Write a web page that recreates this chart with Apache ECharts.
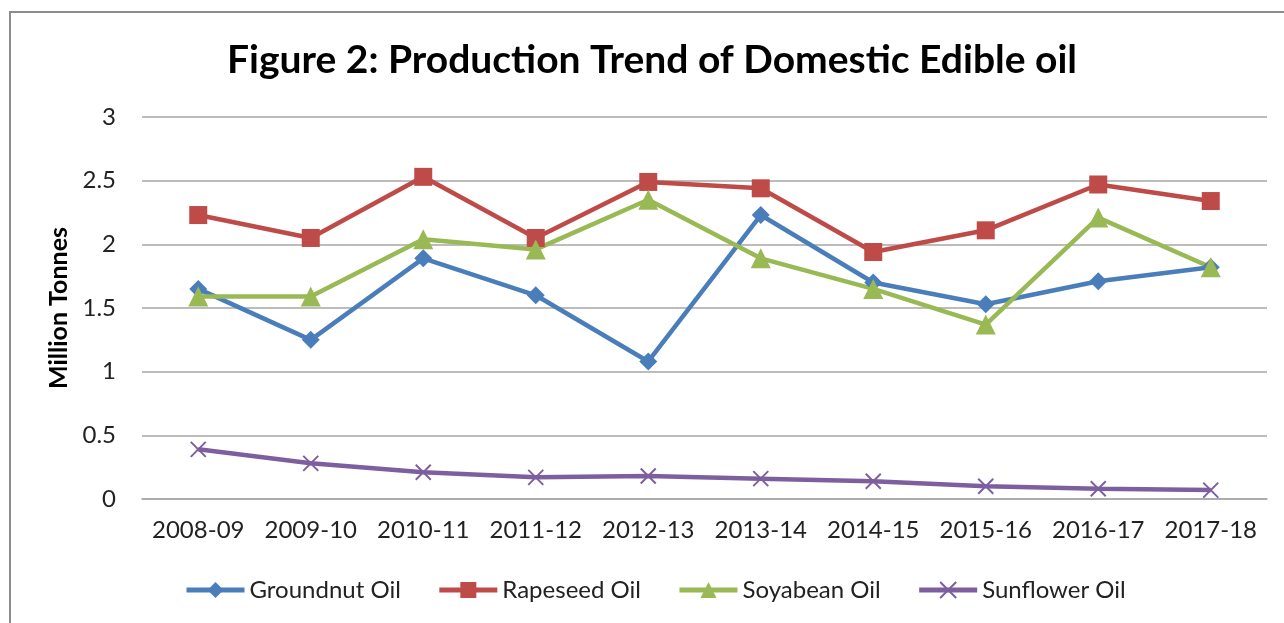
<!DOCTYPE html>
<html>
<head>
<meta charset="utf-8">
<title>Production Trend of Domestic Edible oil</title>
<script src="https://cdn.jsdelivr.net/npm/echarts@6/dist/echarts.min.js"></script>
<style>
  html, body { margin: 0; padding: 0; background: #fff; }
  #lineChart { width: 1284px; height: 623px; }
</style>
</head>
<body>
<div id="lineChart"></div>
<script>
// values, million tonnes
const years = ['2008-09', '2009-10', '2010-11', '2011-12', '2012-13',
  '2013-14', '2014-15', '2015-16', '2016-17', '2017-18'];
const groundnutOil = [1.65, 1.25, 1.89, 1.60, 1.08, 2.23, 1.70, 1.53, 1.71, 1.82];
const rapeseedOil = [2.23, 2.05, 2.53, 2.05, 2.49, 2.44, 1.94, 2.11, 2.47, 2.34];
const soyabeanOil = [1.59, 1.59, 2.04, 1.96, 2.35, 1.89, 1.65, 1.37, 2.21, 1.82];
const sunflowerOil = [0.39, 0.28, 0.21, 0.17, 0.18, 0.16, 0.14, 0.10, 0.08, 0.07];
const yTicks = [0, 0.5, 1, 1.5, 2, 2.5, 3];

const fontName = 'Lato';
const crossSymbol = 'path://M0,0L10,10M10,0L0,10';

let chartContainer = document.getElementById('lineChart');
let myChart = echarts.init(chartContainer);

function makeSeries(name, data, color, symbol, size) {
  return {
    name: name,
    type: 'line',
    data: data,
    symbol: symbol,
    symbolSize: size,
    lineStyle: { color: color, width: 4.5 },
    itemStyle: symbol === crossSymbol
      ? { color: 'none', borderColor: color, borderWidth: 2 }
      : { color: color },
    animation: false
  };
}

let option = {
  textStyle: { fontFamily: fontName },
  title: {
    text: 'Figure 2: Production Trend of Domestic Edible oil',
    left: 652,
    top: 41,
    padding: 0,
    textAlign: 'center',
    textStyle: { fontFamily: fontName, fontSize: 39, fontWeight: 'bold', color: '#000' }
  },
  legend: {
    left: 179,
    top: 573,
    itemWidth: 58,
    itemHeight: 20,
    itemGap: 36,
    lineStyle: { width: 5 },
    textStyle: { fontFamily: fontName, fontSize: 24, color: '#222' },
    data: ['Groundnut Oil', 'Rapeseed Oil', 'Soyabean Oil', 'Sunflower Oil']
  },
  grid: {
    left: 142,
    right: 17,
    top: 117,
    bottom: 124,
    containLabel: false
  },
  xAxis: {
    type: 'category',
    data: years,
    boundaryGap: true,
    axisLine: { show: true, lineStyle: { color: '#a6a6a6', width: 1.5 } },
    axisTick: { show: false },
    axisLabel: { interval: 0, hideOverlap: false, fontFamily: fontName, fontSize: 24, color: '#222', margin: 19 }
  },
  yAxis: {
    type: 'value',
    min: yTicks[0],
    max: yTicks[yTicks.length - 1],
    interval: 0.5,
    name: 'Million Tonnes',
    nameLocation: 'middle',
    nameGap: 70,
    nameTextStyle: { fontFamily: fontName, fontSize: 25, fontWeight: 'bold', color: '#000' },
    axisLine: { show: false },
    axisTick: { show: false },
    splitLine: { lineStyle: { color: '#a6a6a6', width: 1.5 } },
    axisLabel: { fontFamily: fontName, fontSize: 24, color: '#222', margin: 26 }
  },
  graphic: [{
    type: 'rect',
    shape: { x: 10, y: 12, width: 1400, height: 800 },
    style: { fill: 'none', stroke: '#8c8c8c', lineWidth: 2 },
    silent: true
  }],
  series: [
    makeSeries('Groundnut Oil', groundnutOil, '#4a7ebb', 'diamond', 18),
    makeSeries('Rapeseed Oil', rapeseedOil, '#be4b48', 'rect', 18),
    makeSeries('Soyabean Oil', soyabeanOil, '#98b954', 'triangle', 20),
    makeSeries('Sunflower Oil', sunflowerOil, '#7d5fa0', crossSymbol, 15)
  ]
};

myChart.setOption(option);
</script>
</body>
</html>
